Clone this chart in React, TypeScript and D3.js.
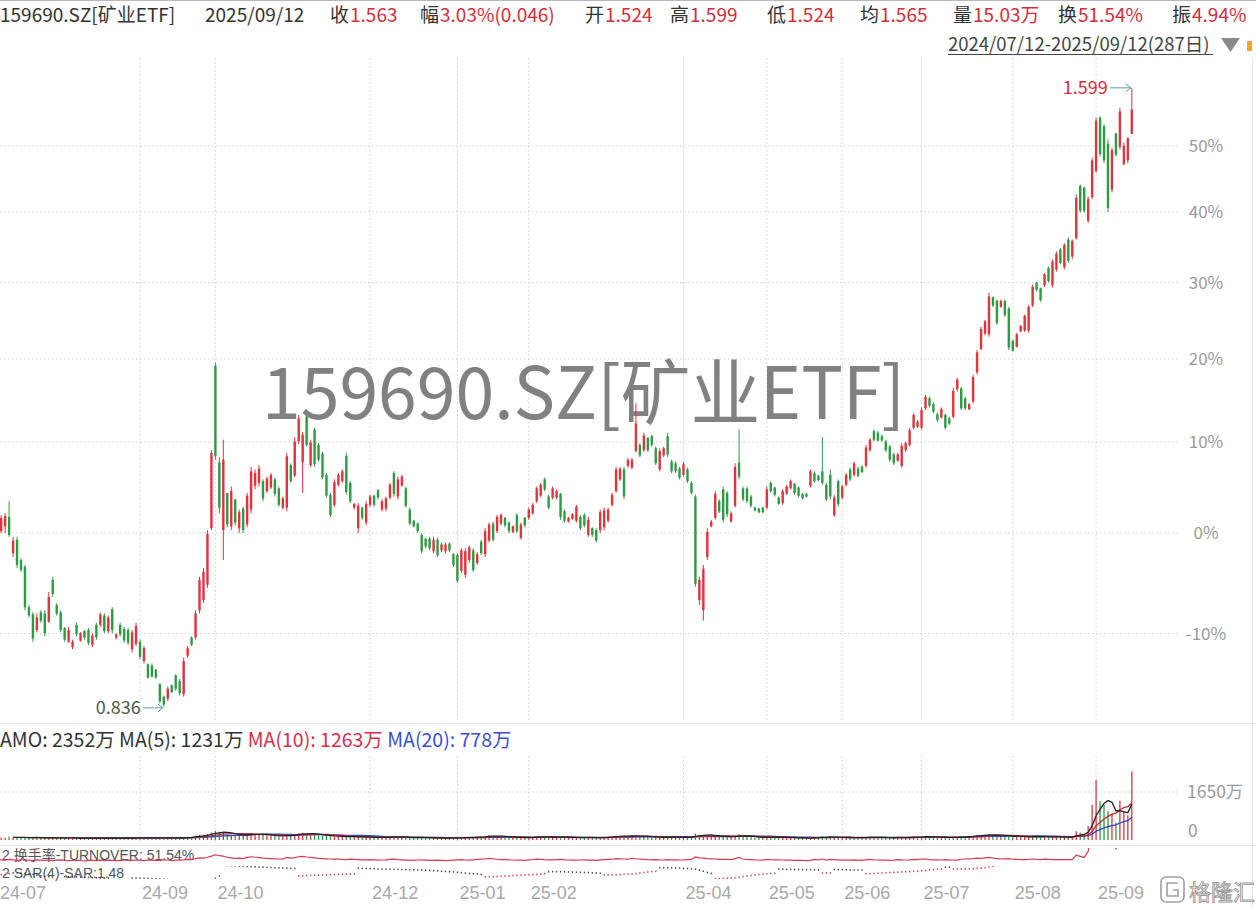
import React, { useEffect } from "react";
import * as d3 from "d3";

// [open, high, low, close, amount(万)]
type Row = [number, number, number, number, number];

const jul24: Row[] = [
  [1.005, 1.012, 0.998, 1.008, 120], [1.005, 1.022, 1.003, 1.019, 90], [1.010, 1.024, 1.003, 1.021, 80],
  [1.020, 1.037, 0.999, 1.001, 110], [0.982, 0.999, 0.978, 0.995, 95], [0.996, 0.999, 0.967, 0.970, 70],
  [0.975, 0.977, 0.963, 0.965, 85], [0.968, 0.970, 0.925, 0.928, 100], [0.928, 0.930, 0.918, 0.920, 75],
  [0.921, 0.923, 0.895, 0.898, 60], [0.906, 0.922, 0.904, 0.918, 90], [0.923, 0.925, 0.913, 0.915, 80],
  [0.922, 0.925, 0.900, 0.903, 70], [0.914, 0.943, 0.913, 0.938, 85],
];
const aug24: Row[] = [
  [0.955, 0.958, 0.938, 0.941, 60], [0.930, 0.932, 0.920, 0.922, 75], [0.923, 0.925, 0.904, 0.906, 90],
  [0.908, 0.909, 0.895, 0.897, 70], [0.895, 0.909, 0.894, 0.906, 55], [0.890, 0.897, 0.888, 0.895, 65],
  [0.911, 0.913, 0.900, 0.902, 80], [0.896, 0.904, 0.895, 0.903, 60], [0.905, 0.906, 0.897, 0.899, 50],
  [0.906, 0.908, 0.892, 0.894, 70], [0.892, 0.903, 0.890, 0.901, 65], [0.911, 0.913, 0.897, 0.899, 55],
  [0.911, 0.923, 0.909, 0.921, 75], [0.920, 0.922, 0.903, 0.905, 60], [0.905, 0.920, 0.903, 0.918, 80],
  [0.926, 0.928, 0.903, 0.906, 70], [0.899, 0.903, 0.897, 0.902, 55], [0.911, 0.913, 0.900, 0.902, 60],
  [0.907, 0.909, 0.894, 0.896, 90], [0.906, 0.908, 0.892, 0.894, 65], [0.888, 0.906, 0.885, 0.904, 70],
  [0.893, 0.913, 0.891, 0.910, 85],
];
const sep24: Row[] = [
  [0.895, 0.897, 0.879, 0.881, 70], [0.877, 0.891, 0.875, 0.889, 60], [0.874, 0.875, 0.861, 0.862, 75],
  [0.873, 0.875, 0.862, 0.863, 80], [0.869, 0.870, 0.861, 0.862, 65], [0.856, 0.857, 0.839, 0.841, 70],
  [0.845, 0.846, 0.836, 0.838, 90], [0.843, 0.854, 0.841, 0.852, 85], [0.855, 0.856, 0.848, 0.849, 60],
  [0.864, 0.865, 0.850, 0.852, 75], [0.859, 0.861, 0.846, 0.848, 80], [0.847, 0.880, 0.845, 0.877, 90],
  [0.882, 0.891, 0.880, 0.889, 110], [0.899, 0.900, 0.891, 0.892, 100], [0.899, 0.925, 0.897, 0.922, 150],
  [0.925, 0.958, 0.922, 0.955, 180], [0.935, 0.967, 0.932, 0.963, 170], [0.950, 1.006, 0.947, 1.002, 210],
  [1.008, 1.094, 1.006, 1.091, 260],
];
const oct24: Row[] = [
  [1.195, 1.199, 1.083, 1.087, 320], [1.080, 1.086, 1.024, 1.030, 280], [1.006, 1.106, 0.975, 1.083, 260],
  [1.046, 1.046, 1.009, 1.012, 200], [1.010, 1.053, 1.006, 1.048, 180], [1.039, 1.039, 1.011, 1.014, 160],
  [1.008, 1.028, 1.003, 1.025, 170], [1.029, 1.031, 1.003, 1.006, 150], [1.012, 1.046, 1.009, 1.043, 200],
  [1.028, 1.075, 1.024, 1.070, 230], [1.054, 1.072, 1.050, 1.068, 210], [1.057, 1.077, 1.053, 1.073, 190],
  [1.059, 1.061, 1.037, 1.040, 170], [1.048, 1.064, 1.046, 1.062, 160], [1.052, 1.068, 1.050, 1.066, 150],
  [1.061, 1.063, 1.042, 1.045, 140], [1.051, 1.053, 1.031, 1.033, 130], [1.030, 1.042, 1.028, 1.040, 120],
];
const nov24: Row[] = [
  [1.030, 1.091, 1.026, 1.087, 200], [1.077, 1.079, 1.057, 1.059, 170], [1.065, 1.109, 1.063, 1.104, 190],
  [1.104, 1.135, 1.101, 1.131, 230], [1.080, 1.115, 1.046, 1.112, 250], [1.133, 1.135, 1.098, 1.100, 220],
  [1.077, 1.106, 1.075, 1.103, 200], [1.118, 1.120, 1.075, 1.078, 180], [1.100, 1.102, 1.081, 1.083, 160],
  [1.090, 1.092, 1.061, 1.063, 150], [1.066, 1.068, 1.041, 1.043, 140], [1.044, 1.046, 1.020, 1.022, 130],
  [1.033, 1.061, 1.031, 1.058, 120], [1.055, 1.068, 1.053, 1.066, 130], [1.059, 1.072, 1.057, 1.070, 110],
  [1.087, 1.091, 1.044, 1.047, 100], [1.057, 1.059, 1.035, 1.037, 120], [1.030, 1.035, 1.028, 1.034, 110],
  [1.008, 1.035, 1.003, 1.032, 100], [1.030, 1.031, 1.017, 1.019, 90], [1.014, 1.037, 1.011, 1.034, 95],
];
const dec24: Row[] = [
  [1.033, 1.044, 1.031, 1.042, 100], [1.043, 1.044, 1.031, 1.033, 90], [1.049, 1.050, 1.039, 1.041, 80],
  [1.028, 1.039, 1.026, 1.037, 85], [1.029, 1.042, 1.026, 1.040, 95], [1.041, 1.057, 1.039, 1.055, 110],
  [1.068, 1.070, 1.042, 1.045, 120], [1.042, 1.064, 1.039, 1.061, 100], [1.054, 1.066, 1.053, 1.064, 90],
  [1.051, 1.053, 1.030, 1.032, 80], [1.028, 1.030, 1.011, 1.013, 75], [1.016, 1.017, 1.009, 1.010, 70],
  [1.013, 1.014, 1.003, 1.005, 85], [1.001, 1.003, 0.982, 0.984, 90], [0.997, 0.998, 0.987, 0.989, 80],
  [0.997, 0.999, 0.985, 0.987, 70], [0.984, 0.999, 0.982, 0.996, 65], [0.996, 0.998, 0.978, 0.980, 75],
  [0.985, 0.993, 0.983, 0.991, 70], [0.984, 0.993, 0.982, 0.991, 60], [0.992, 0.993, 0.983, 0.985, 65],
  [0.981, 0.982, 0.968, 0.970, 80],
];
const jan25: Row[] = [
  [0.980, 0.982, 0.952, 0.954, 90], [0.964, 0.987, 0.962, 0.985, 100], [0.960, 0.987, 0.957, 0.984, 85],
  [0.975, 0.990, 0.972, 0.988, 80], [0.985, 0.987, 0.963, 0.965, 95], [0.972, 0.983, 0.970, 0.981, 110],
  [0.994, 0.996, 0.980, 0.982, 120], [0.981, 1.008, 0.978, 1.005, 130], [0.995, 1.014, 0.993, 1.012, 160],
  [1.013, 1.015, 0.994, 0.996, 140], [1.005, 1.022, 1.003, 1.020, 120], [1.013, 1.024, 1.011, 1.022, 100],
  [1.019, 1.020, 1.009, 1.011, 110], [1.014, 1.015, 1.003, 1.005, 90], [1.004, 1.011, 1.003, 1.010, 85],
  [1.022, 1.024, 1.003, 1.005, 80], [0.998, 1.014, 0.996, 1.012, 75], [1.019, 1.020, 1.009, 1.011, 70],
];
const feb25: Row[] = [
  [1.019, 1.030, 1.017, 1.028, 90], [1.024, 1.035, 1.022, 1.033, 100], [1.037, 1.053, 1.035, 1.051, 120],
  [1.043, 1.057, 1.041, 1.055, 110], [1.061, 1.063, 1.048, 1.050, 100], [1.042, 1.044, 1.028, 1.030, 95],
  [1.041, 1.053, 1.039, 1.051, 90], [1.041, 1.050, 1.039, 1.048, 100], [1.045, 1.046, 1.017, 1.020, 110],
  [1.026, 1.028, 1.014, 1.016, 90], [1.015, 1.020, 1.014, 1.019, 85], [1.018, 1.024, 1.017, 1.023, 80],
  [1.016, 1.033, 1.014, 1.031, 75], [1.020, 1.022, 1.006, 1.008, 85], [1.022, 1.024, 1.009, 1.011, 90],
  [1.001, 1.020, 0.999, 1.017, 80], [1.008, 1.009, 0.999, 1.001, 75], [1.006, 1.008, 0.993, 0.995, 70],
];
const mar25: Row[] = [
  [1.006, 1.028, 1.003, 1.025, 90], [1.009, 1.030, 1.006, 1.027, 100], [1.016, 1.030, 1.014, 1.028, 110],
  [1.033, 1.046, 1.031, 1.044, 120], [1.048, 1.075, 1.046, 1.072, 150], [1.061, 1.075, 1.059, 1.073, 140],
  [1.072, 1.075, 1.039, 1.042, 130], [1.076, 1.085, 1.074, 1.083, 120], [1.074, 1.085, 1.072, 1.083, 160],
  [1.093, 1.149, 1.091, 1.125, 140], [1.100, 1.102, 1.086, 1.088, 120], [1.094, 1.114, 1.092, 1.111, 110],
  [1.108, 1.109, 1.092, 1.094, 100], [1.110, 1.112, 1.098, 1.100, 95], [1.096, 1.098, 1.077, 1.079, 100],
  [1.072, 1.096, 1.070, 1.093, 90], [1.088, 1.098, 1.086, 1.096, 85], [1.110, 1.114, 1.086, 1.089, 100],
  [1.081, 1.083, 1.068, 1.070, 95], [1.079, 1.081, 1.068, 1.070, 90], [1.073, 1.075, 1.061, 1.063, 85],
];
const apr25: Row[] = [
  [1.066, 1.081, 1.064, 1.078, 90], [1.072, 1.074, 1.057, 1.059, 100], [1.057, 1.059, 1.044, 1.046, 110],
  [1.042, 1.044, 0.948, 0.951, 220], [0.935, 0.958, 0.930, 0.955, 180], [0.925, 0.970, 0.915, 0.966, 170],
  [0.978, 1.008, 0.975, 1.004, 150], [1.010, 1.017, 1.009, 1.015, 140], [1.019, 1.048, 1.017, 1.045, 130],
  [1.037, 1.039, 1.024, 1.026, 120], [1.050, 1.053, 1.014, 1.017, 110], [1.046, 1.048, 1.020, 1.023, 115],
  [1.015, 1.026, 1.014, 1.024, 100], [1.032, 1.079, 1.030, 1.075, 150], [1.080, 1.118, 1.061, 1.064, 200],
  [1.051, 1.053, 1.037, 1.039, 130], [1.051, 1.053, 1.035, 1.037, 110], [1.042, 1.044, 1.030, 1.032, 100],
  [1.030, 1.031, 1.026, 1.027, 90], [1.029, 1.030, 1.024, 1.025, 85], [1.030, 1.031, 1.024, 1.025, 80],
];
const may25: Row[] = [
  [1.030, 1.053, 1.028, 1.050, 110], [1.057, 1.059, 1.046, 1.048, 100], [1.052, 1.053, 1.042, 1.044, 95],
  [1.041, 1.042, 1.033, 1.034, 90], [1.035, 1.050, 1.033, 1.048, 85], [1.045, 1.055, 1.044, 1.053, 80],
  [1.051, 1.061, 1.050, 1.059, 75], [1.056, 1.057, 1.044, 1.046, 70], [1.052, 1.053, 1.041, 1.043, 65],
  [1.045, 1.046, 1.039, 1.040, 70], [1.045, 1.046, 1.041, 1.042, 60], [1.054, 1.072, 1.052, 1.070, 65],
  [1.068, 1.070, 1.057, 1.059, 110], [1.065, 1.066, 1.059, 1.060, 90], [1.070, 1.109, 1.055, 1.057, 130],
  [1.055, 1.057, 1.037, 1.039, 80], [1.066, 1.072, 1.039, 1.042, 110], [1.022, 1.044, 1.020, 1.041, 100],
  [1.059, 1.061, 1.031, 1.034, 90],
];
const jun25: Row[] = [
  [1.041, 1.055, 1.039, 1.053, 80], [1.055, 1.068, 1.053, 1.066, 85], [1.072, 1.074, 1.059, 1.061, 75],
  [1.066, 1.081, 1.064, 1.079, 90], [1.073, 1.075, 1.063, 1.065, 80], [1.075, 1.077, 1.068, 1.069, 70],
  [1.076, 1.100, 1.074, 1.097, 95], [1.094, 1.108, 1.092, 1.106, 110], [1.116, 1.118, 1.104, 1.106, 90],
  [1.114, 1.116, 1.104, 1.105, 85], [1.110, 1.112, 1.104, 1.105, 80], [1.104, 1.106, 1.092, 1.094, 75],
  [1.098, 1.100, 1.081, 1.083, 70], [1.089, 1.091, 1.077, 1.079, 80], [1.082, 1.091, 1.081, 1.089, 100],
  [1.076, 1.102, 1.074, 1.099, 90], [1.094, 1.104, 1.092, 1.102, 85], [1.100, 1.120, 1.098, 1.117, 95],
  [1.120, 1.137, 1.118, 1.135, 110], [1.121, 1.129, 1.120, 1.127, 100],
];
const jul25: Row[] = [
  [1.120, 1.144, 1.118, 1.141, 120], [1.143, 1.159, 1.141, 1.157, 130], [1.155, 1.157, 1.144, 1.146, 100],
  [1.148, 1.150, 1.137, 1.139, 95], [1.136, 1.138, 1.127, 1.129, 90], [1.132, 1.144, 1.131, 1.142, 85],
  [1.135, 1.137, 1.118, 1.120, 100], [1.131, 1.133, 1.123, 1.125, 90], [1.133, 1.168, 1.131, 1.164, 85],
  [1.166, 1.180, 1.163, 1.178, 80], [1.167, 1.169, 1.141, 1.143, 120], [1.155, 1.157, 1.141, 1.143, 130],
  [1.142, 1.149, 1.141, 1.148, 140], [1.151, 1.184, 1.149, 1.181, 150], [1.187, 1.215, 1.184, 1.212, 170],
  [1.216, 1.245, 1.215, 1.242, 160], [1.236, 1.254, 1.234, 1.252, 180], [1.235, 1.290, 1.232, 1.285, 200],
  [1.284, 1.285, 1.271, 1.273, 170], [1.279, 1.281, 1.247, 1.250, 150], [1.271, 1.281, 1.270, 1.279, 130],
  [1.279, 1.281, 1.258, 1.260, 140], [1.269, 1.271, 1.215, 1.218, 150],
];
const aug25: Row[] = [
  [1.227, 1.228, 1.213, 1.214, 120], [1.219, 1.237, 1.218, 1.235, 110], [1.239, 1.247, 1.238, 1.246, 100],
  [1.240, 1.261, 1.238, 1.259, 105], [1.240, 1.274, 1.237, 1.271, 115], [1.273, 1.301, 1.271, 1.298, 130],
  [1.304, 1.305, 1.292, 1.294, 110], [1.296, 1.297, 1.278, 1.280, 100], [1.300, 1.317, 1.298, 1.315, 120],
  [1.324, 1.326, 1.304, 1.306, 110], [1.300, 1.336, 1.297, 1.333, 100], [1.322, 1.347, 1.319, 1.344, 100],
  [1.350, 1.352, 1.329, 1.331, 100], [1.325, 1.359, 1.322, 1.356, 100], [1.364, 1.367, 1.331, 1.334, 100],
  [1.340, 1.364, 1.336, 1.362, 100], [1.366, 1.430, 1.364, 1.425, 300], [1.443, 1.445, 1.403, 1.406, 250],
  [1.440, 1.442, 1.403, 1.406, 200], [1.391, 1.427, 1.388, 1.423, 480], [1.426, 1.486, 1.423, 1.482, 1200],
];
const sep25: Row[] = [
  [1.466, 1.550, 1.463, 1.545, 2050], [1.550, 1.552, 1.488, 1.492, 1330], [1.536, 1.539, 1.478, 1.482, 1200],
  [1.508, 1.515, 1.404, 1.410, 996], [1.437, 1.502, 1.433, 1.498, 900], [1.524, 1.526, 1.488, 1.491, 600],
  [1.503, 1.566, 1.499, 1.560, 1350], [1.476, 1.510, 1.475, 1.505, 1000], [1.482, 1.518, 1.478, 1.517, 852],
  [1.524, 1.599, 1.524, 1.563, 2352],
];

const monthLabels = ["24-07", "24-08", "24-09", "24-10", "24-11", "24-12", "25-01", "25-02", "25-03", "25-04", "25-05", "25-06", "25-07", "25-08", "25-09"];
const monthRows = [jul24, aug24, sep24, oct24, nov24, dec24, jan25, feb25, mar25, apr25, may25, jun25, jul25, aug25, sep25];
const shownMonths = ["24-07", "24-09", "24-10", "24-12", "25-01", "25-02", "25-04", "25-05", "25-06", "25-07", "25-08", "25-09"];

const BASE = 1.003; // 0% reference price
const pctTicks = [-10, 0, 10, 20, 30, 40, 50];
const volTick = 1650;

const headerTitle = "159690.SZ[矿业ETF]";
const headerDate = "2025/09/12";
const headerLabels = ["收", "幅", "开", "高", "低", "均", "量", "换", "振"];
const headerValues = ["1.563", "3.03%(0.046)", "1.524", "1.599", "1.524", "1.565", "15.03万", "51.54%", "4.94%"];
const rangeText = "2024/07/12-2025/09/12(287日)";
const turnoverText = "2 换手率-TURNOVER: 51.54%";
const sarText = "2 SAR(4)-SAR:1.48";

const FONT = "'Noto Sans CJK SC', 'Noto Sans', sans-serif";
const TIGHT = "'Liberation Sans', 'Noto Sans CJK SC', sans-serif";
const UP = "#df343e";
const DOWN = "#2f9a45";

type Candle = { i: number; o: number; h: number; l: number; c: number; v: number };

function movingAvg(vals: number[], n: number): (number | null)[] {
  return vals.map((_, i) => (i < n - 1 ? null : (d3.mean(vals.slice(i - n + 1, i + 1)) as number)));
}

function computeSar(hs: number[], ls: number[]) {
  const step = 0.02, maxAf = 0.2;
  const out: { v: number; up: boolean }[] = [];
  let up = true, af = step, ep = hs[0], sar = ls[0];
  out.push({ v: sar, up });
  for (let i = 1; i < hs.length; i++) {
    sar = sar + af * (ep - sar);
    if (up) {
      sar = Math.min(sar, ls[i - 1], ls[Math.max(0, i - 2)]);
      if (ls[i] < sar) { up = false; sar = ep; ep = ls[i]; af = step; }
      else if (hs[i] > ep) { ep = hs[i]; af = Math.min(af + step, maxAf); }
    } else {
      sar = Math.max(sar, hs[i - 1], hs[Math.max(0, i - 2)]);
      if (hs[i] > sar) { up = true; sar = ep; ep = hs[i]; af = step; }
      else if (ls[i] < ep) { ep = ls[i]; af = Math.min(af + step, maxAf); }
    }
    out.push({ v: sar, up });
  }
  return out;
}

export default function App() {
  useEffect(() => {
    document.body.style.margin = "0";
  }, []);

  const W = 1256, H = 908;
  const candles: Candle[] = [];
  const monthStart: { label: string; idx: number }[] = [];
  monthRows.forEach((rows, m) => {
    monthStart.push({ label: monthLabels[m], idx: candles.length });
    rows.forEach((r) => candles.push({ i: candles.length, o: r[0], h: r[1], l: r[2], c: r[3], v: r[4] }));
  });
  const n = candles.length;

  const plotRight = 1178;
  const x = d3.scaleLinear().domain([0, n - 1]).range([-2.8, 1131.8]);
  const y = d3.scaleLog().domain([BASE, BASE * 1.5]).range([533, 146]);
  const yv = d3.scaleLinear().domain([0, volTick]).range([840, 792]);
  const yt = d3.scaleLinear().domain([40, 400]).range([861, 853]);
  const ys = d3.scaleLinear().domain([0.95, 1.12]).range([877, 869]);

  const vols = candles.map((d) => d.v);
  const ma5 = movingAvg(vols, 5), ma10 = movingAvg(vols, 10), ma20 = movingAvg(vols, 20);
  const maLine = (arr: (number | null)[]) =>
    d3.line<number | null>().defined((d) => d !== null).x((_, i) => x(i)).y((d) => yv(d as number))(arr) || "";
  const turnLine = d3.line<Candle>().x((d) => x(d.i)).y((d) => yt(d.v))(candles) || "";
  const sar = computeSar(candles.map((d) => d.h), candles.map((d) => d.l));

  const hiC = candles.reduce((a, b) => (b.h > a.h ? b : a));
  const loC = candles.reduce((a, b) => (b.l < a.l ? b : a));
  const last = n - 1;
  const fmt = (v: number | null) => Math.round(v as number) + "万";

  const gridMonths = monthStart.filter((m) => shownMonths.includes(m.label) && x(m.idx) > 5);
  const headerX = [330, 420, 585, 670, 767, 860, 953, 1058, 1172];

  return (
    <svg width={W} height={H} style={{ position: "fixed", left: 0, top: 0, background: "#fff" }} fontFamily={FONT}>
      <defs>
        <clipPath id="mainClip"><rect x={0} y={58} width={plotRight} height={665} /></clipPath>
        <clipPath id="volClip"><rect x={0} y={752} width={plotRight} height={92} /></clipPath>
        <clipPath id="turnClip"><rect x={0} y={848} width={plotRight} height={16} /></clipPath>
        <clipPath id="sarClip"><rect x={0} y={866} width={plotRight} height={13} /></clipPath>
      </defs>
      <rect x={0} y={0} width={W} height={H} fill="#fff" />
      <line x1={0} x2={W} y1={0.5} y2={0.5} stroke="#b8b8b8" />

      {/* header */}
      <text x={0} y={22} fontSize={19} fill="#333">{headerTitle}</text>
      <text x={205} y={22} fontSize={19} fill="#333">{headerDate}</text>
      {headerLabels.map((lab, k) => (
        <text key={lab + k} x={headerX[k]} y={22} fontSize={19} fill="#333">
          {lab}
          <tspan fill="#d22d39" dx={1}>{headerValues[k]}</tspan>
        </text>
      ))}
      <text x={948} y={51} fontSize={18.5} fill="#444">{rangeText}</text>
      <line x1={948} x2={1213} y1={54.5} y2={54.5} stroke="#444" strokeWidth={1} />
      <polygon points="1221,38 1240,38 1230.5,52" fill="#8a8a8a" />
      <rect x={1247} y={41} width={5} height={10} fill="#f2a52a" />
      <line x1={1252.5} x2={1252.5} y1={58} y2={H} stroke="#e4e4e4" />

      {/* grid */}
      {pctTicks.map((p) => (
        <line key={"h" + p} x1={0} x2={plotRight} y1={y(BASE * (1 + p / 100))} y2={y(BASE * (1 + p / 100))}
          stroke="#cfcfcf" strokeDasharray="1.5,2.5" />
      ))}
      {gridMonths.map((m) => (
        <g key={"v" + m.label}>
          <line x1={x(m.idx)} x2={x(m.idx)} y1={58} y2={722} stroke="#cfcfcf" strokeDasharray="1.5,2.5" />
          <line x1={x(m.idx)} x2={x(m.idx)} y1={756} y2={843} stroke="#cfcfcf" strokeDasharray="1.5,2.5" />
        </g>
      ))}
      <line x1={0} x2={plotRight} y1={yv(volTick)} y2={yv(volTick)} stroke="#cfcfcf" strokeDasharray="1.5,2.5" />

      {/* watermark */}
      <text x={262} y={419} fontSize={72} fill="#818181" textLength={643} lengthAdjust="spacingAndGlyphs">
        {headerTitle}
      </text>

      {/* candles */}
      <g clipPath="url(#mainClip)">
        {candles.map((d) => {
          const col = d.c >= d.o ? UP : DOWN;
          const cx = x(d.i);
          const top = y(Math.max(d.o, d.c));
          const bot = y(Math.min(d.o, d.c));
          return (
            <g key={"c" + d.i}>
              <line x1={cx} x2={cx} y1={y(d.h)} y2={y(d.l)} stroke={col} strokeWidth={1} />
              <rect x={cx - 1.2} y={top} width={2.4} height={Math.max(1, bot - top)} fill={col} />
            </g>
          );
        })}
      </g>

      {/* extremes */}
      <text x={x(hiC.i) - 24} y={y(hiC.h) + 6} fontSize={18} fill="#d22d39" textAnchor="end">{hiC.h.toFixed(3)}</text>
      <line x1={x(hiC.i) - 22} x2={x(hiC.i) - 1} y1={y(hiC.h)} y2={y(hiC.h)} stroke="#5a9ea6" strokeWidth={1} />
      <polyline points={`${x(hiC.i) - 6},${y(hiC.h) - 4} ${x(hiC.i) - 1},${y(hiC.h)} ${x(hiC.i) - 6},${y(hiC.h) + 4}`} fill="none" stroke="#5a9ea6" />
      <text x={x(loC.i) - 23} y={y(loC.l) + 7} fontSize={18} fill="#46604a" textAnchor="end">{loC.l.toFixed(3)}</text>
      <line x1={x(loC.i) - 21} x2={x(loC.i) - 1} y1={y(loC.l) + 1} y2={y(loC.l) + 1} stroke="#5a9ea6" strokeWidth={1} />
      <polyline points={`${x(loC.i) - 6},${y(loC.l) - 3} ${x(loC.i) - 1},${y(loC.l) + 1} ${x(loC.i) - 6},${y(loC.l) + 5}`} fill="none" stroke="#5a9ea6" />

      {/* y axis */}
      {pctTicks.map((p) => (
        <text key={"t" + p} x={1206} y={y(BASE * (1 + p / 100)) + 6} fontSize={17} fill="#9a9a9a" textAnchor="middle">{p + "%"}</text>
      ))}

      <line x1={0} x2={W} y1={723.5} y2={723.5} stroke="#e2e2e2" />

      {/* volume panel */}
      <text x={0} y={747} fontSize={19.5} fill="#333">
        {"AMO: " + fmt(vols[last]) + " MA(5): " + fmt(ma5[last]) + " "}
        <tspan fill="#d4304c">{"MA(10): " + fmt(ma10[last]) + " "}</tspan>
        <tspan fill="#3a4fd0">{"MA(20): " + fmt(ma20[last])}</tspan>
      </text>
      <g clipPath="url(#volClip)">
        {candles.map((d) => (
          <line key={"v" + d.i} x1={x(d.i)} x2={x(d.i)} y1={yv(0)} y2={yv(d.v)}
            stroke={d.c >= d.o ? UP : DOWN} strokeWidth={1.3} />
        ))}
        <path d={maLine(ma20)} fill="none" stroke="#2f45c8" strokeWidth={1.3} />
        <path d={maLine(ma10)} fill="none" stroke="#b8303a" strokeWidth={1.3} />
        <path d={maLine(ma5)} fill="none" stroke="#222" strokeWidth={1.3} />
      </g>
      <text x={1187} y={798} fontSize={17.5} fill="#9a9a9a">{volTick + "万"}</text>
      <text x={1188} y={837} fontSize={17.5} fill="#9a9a9a">0</text>
      <line x1={0} x2={W} y1={845.5} y2={845.5} stroke="#e6e6e6" />

      {/* turnover & SAR rows */}
      <text x={2} y={860} fontSize={14} fill="#555" fontFamily={TIGHT}>{turnoverText}</text>
      <g clipPath="url(#turnClip)">
        <path d={turnLine} fill="none" stroke="#d43a55" strokeWidth={1.2} />
      </g>
      <text x={2} y={878} fontSize={14} fill="#555" fontFamily={TIGHT}>{sarText}</text>
      <g clipPath="url(#sarClip)">
        {sar.map((s, i) => (
          <rect key={"s" + i} x={x(i) - 0.6} y={ys(s.v) - 0.8} width={1.3} height={1.6} fill={s.up ? "#d43a55" : "#444"} />
        ))}
      </g>

      {/* x axis */}
      {monthStart.filter((m) => shownMonths.includes(m.label)).map((m) => (
        <text key={"x" + m.label} x={Math.max(0, x(m.idx) + 2)} y={899} fontSize={18} fill="#a8a8a8" fontFamily={TIGHT}>{m.label}</text>
      ))}

      {/* logo */}
      <g>
        <rect x={1161} y={877} width={23} height={25} rx={5} fill="none" stroke="#a0a0a0" strokeWidth={1.6} />
        <path d="M1178,883 L1167,883 L1167,896 L1178,896 L1178,890 L1173,890" fill="none" stroke="#a0a0a0" strokeWidth={1.6} />
        <text x={1189} y={900} fontSize={22} fill="#fff" stroke="#9a9a9a" strokeWidth={0.9}>格隆汇</text>
      </g>
    </svg>
  );
}
